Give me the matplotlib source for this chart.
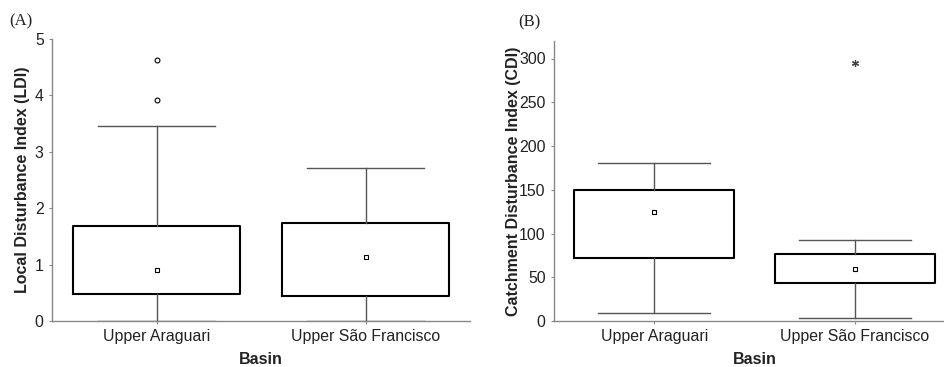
import matplotlib
matplotlib.use("Agg")
import matplotlib.pyplot as plt

plt.rcParams['font.family'] = ['Liberation Sans', 'DejaVu Sans']

basins = ["Upper Araguari", "Upper São Francisco"]

# panel A: Local Disturbance Index
ldi_q1 = [0.48, 0.45]
ldi_q3 = [1.69, 1.73]
ldi_lo = [0.0, 0.0]
ldi_hi = [3.45, 2.71]
ldi_mean = [0.91, 1.14]
ldi_out = [[4.62, 3.91], []]

# panel B: Catchment Disturbance Index
cdi_q1 = [72.3, 43.4]
cdi_q3 = [149.8, 76.5]
cdi_lo = [9.1, 3.0]
cdi_hi = [181.0, 92.5]
cdi_mean = [124.8, 59.0]
cdi_out = [[], [294.3]]


def make_stats(q1, q3, lo, hi, mean, out):
    stats = []
    for i in range(len(q1)):
        stats.append(dict(q1=q1[i], q3=q3[i], med=q1[i], whislo=lo[i],
                          whishi=hi[i], mean=mean[i], fliers=out[i]))
    return stats


fig = plt.figure(figsize=(9.44, 3.67), dpi=100)
axA = fig.add_axes([52/944, 1-321/367, 418/944, 282/367])
axB = fig.add_axes([554/944, 1-321/367, 401/944, 280/367])

box_style = dict(color="black", linewidth=1.5)
line_style = dict(color="#555555", linewidth=1.0)
mean_style = dict(marker="s", markersize=3.5, markerfacecolor="white",
                  markeredgecolor="black", markeredgewidth=0.8)

axA.bxp(make_stats(ldi_q1, ldi_q3, ldi_lo, ldi_hi, ldi_mean, ldi_out),
        widths=0.8, capwidths=0.56, showmeans=True, showfliers=True,
        boxprops=box_style, whiskerprops=line_style, capprops=line_style,
        medianprops=dict(linewidth=0), meanprops=mean_style,
        flierprops=dict(marker="o", markersize=3.5, markerfacecolor="white",
                        markeredgecolor="black", markeredgewidth=0.8))

axB.bxp(make_stats(cdi_q1, cdi_q3, cdi_lo, cdi_hi, cdi_mean, cdi_out),
        widths=0.8, capwidths=0.56, showmeans=True, showfliers=True,
        boxprops=box_style, whiskerprops=line_style, capprops=line_style,
        medianprops=dict(linewidth=0), meanprops=mean_style,
        flierprops=dict(marker=(6, 2, 0), markersize=5,
                        markeredgecolor="#444444", markeredgewidth=0.9))

axA.set_ylim(0, 5)
axA.set_yticks([0, 1, 2, 3, 4, 5])
axB.set_ylim(0, 320)
axB.set_yticks([0, 50, 100, 150, 200, 250, 300])

for ax in (axA, axB):
    ax.set_xlim(0.5, 2.5)
    ax.set_xticks([1, 2])
    ax.set_xticklabels(basins)
    for s in ("top", "right"):
        ax.spines[s].set_visible(False)
    for s in ("left", "bottom"):
        ax.spines[s].set_color("#888888")
        ax.spines[s].set_linewidth(1.0)
    ax.tick_params(axis="y", direction="out", length=2, width=0.8,
                   color="#888888", labelsize=11.4, pad=4, labelcolor="#222222")
    ax.tick_params(axis="x", direction="out", length=2, width=0.8,
                   color="#888888", labelsize=11.4, pad=4, labelcolor="#222222")
    ax.set_xlabel("Basin", fontsize=11.5, fontweight="bold", color="#222222")
    ax.xaxis.set_label_coords(0.5, -31/282)

axA.set_ylabel("Local Disturbance Index (LDI)", fontsize=11.5,
               fontweight="bold", color="#222222")
axA.yaxis.set_label_coords(-0.053, 0.5)
axB.set_ylabel("Catchment Disturbance Index (CDI)", fontsize=11.5,
               fontweight="bold", color="#222222")
axB.yaxis.set_label_coords(-0.082, 0.5)

fig.text(21/944, 1-21/367, "(A)", family="Liberation Serif", fontsize=12,
         ha="center", va="center", color="#222222")
fig.text(529/944, 1-22/367, "(B)", family="Liberation Serif", fontsize=12,
         ha="center", va="center", color="#222222")

fig.savefig("out.png", dpi=100)
